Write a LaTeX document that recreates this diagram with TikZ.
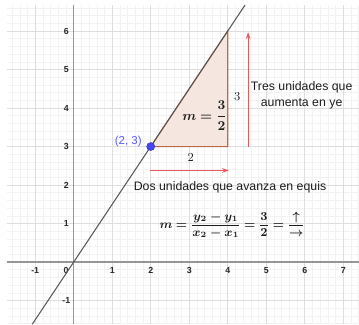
\documentclass[tikz,border=0pt]{standalone}
\usepackage[no-math]{fontspec}
\setmainfont{Liberation Sans}
\usepackage{amsmath}
\usepackage{bm}
\usepackage{xcolor}
\usetikzlibrary{positioning, arrows.meta}
\definecolor{gridMinor}{RGB}{242,242,242}
\definecolor{gridMajor}{RGB}{222,222,222}
\definecolor{axisGray}{RGB}{150,150,150}
\definecolor{lineGray}{RGB}{85,85,85}
\definecolor{tickText}{RGB}{40,40,40}
\definecolor{triFill}{RGB}{245,230,224}
\definecolor{triEdge}{RGB}{190,105,75}
\definecolor{arrowRed}{RGB}{232,90,95}
\definecolor{pointBlue}{RGB}{70,70,245}
\definecolor{labelBlue}{RGB}{90,90,255}
\definecolor{noteText}{RGB}{30,30,30}

\begin{document}
\begin{tikzpicture}[
			minorgrid/.style={
				draw=gridMinor,
				line width=0.4pt
			},
			majorgrid/.style={
				draw=gridMajor,
				line width=0.5pt
			},
			axisline/.style={
				draw=axisGray,
				line width=1pt
			},
			ticklabel/.style={
				font=\fontsize{6.5}{7}\selectfont\bfseries,
				text=tickText,
				inner sep=1pt
			},
			graphline/.style={
				draw=lineGray,
				line width=0.75pt
			},
			slopebox/.style={
				fill=triFill,
				draw=triEdge,
				line width=0.8pt
			},
			redarrow/.style={
				draw=arrowRed,
				line width=0.8pt,
				-{Stealth[length=5pt,width=3.5pt]}
			},
			pointdot/.style={
				circle,
				fill=pointBlue,
				draw=pointBlue!70!black,
				line width=0.3pt,
				minimum size=6pt,
				inner sep=0pt
			},
			notestyle/.style={
				align=center,
				font=\fontsize{9.1}{12.5}\selectfont,
				text=noteText
			},
			mathstyle/.style={
				font=\fontsize{9}{11}\selectfont,
				text=noteText
			}
			]
			
			% Canvas
			\useasboundingbox (-1.914,-1.614) rectangle (7.41,6.806);
			\fill[white] (-1.914,-1.614) rectangle (7.41,6.806);
			
			% Grid
			\draw[minorgrid, step=0.2] (-1.73,-1.614) grid (7.41,6.675);
			\draw[majorgrid, step=1] (-1.73,-1.614) grid (7.41,6.675);
			
			% Axes
			\coordinate (xmin) at (-1.73,0);
			\coordinate (xmax) at (7.41,0);
			\coordinate (ymin) at (0,-1.614);
			\coordinate (ymax) at (0,6.675);
			\draw[axisline] (xmin) -- (xmax);
			\draw[axisline] (ymin) -- (ymax);
			
			% Tick labels
			\foreach \x in {-1,1,2,3,4,5,6,7}
				\node[ticklabel] (xl\x) at (\x,-0.23) {\x};
			\foreach \y in {-1,1,2,3,4,5,6}
				\node[ticklabel] (yl\y) at (-0.19,\y) {\y};
			\node[ticklabel] (zero) at (-0.2,-0.21) {0};
			
			% Slope triangle
			\coordinate (A) at (2,3);
			\coordinate (B) at (4,3);
			\coordinate (C) at (4,6);
			\filldraw[slopebox] (A) -- (B) -- (C) -- cycle;
			
			% Line y = 3x/2
			\coordinate (lo) at (-1.076,-1.614);
			\coordinate (hi) at (4.45,6.675);
			\draw[graphline] (lo) -- (hi);
			
			% Point
			\node[pointdot] (P) at (A) {};
			\node[text=labelBlue, font=\fontsize{8.5}{10}\selectfont, inner sep=1pt, left=0.08cm of P, yshift=3.5pt] (Plabel) {(2, 3)};
			
			% Side labels
			\node[mathstyle] (run) at (3.04,2.72) {$2$};
			\node[mathstyle] (rise) at (4.25,4.3) {$3$};
			\node[mathstyle, font=\fontsize{10}{12}\selectfont] (slope) at (3.4,3.8) {$\bm{m=\dfrac{3}{2}}$};
			
			% Red arrows
			\coordinate (up0) at (4.53,3);
			\coordinate (up1) at (4.53,5.97);
			\coordinate (rt0) at (1.98,2.38);
			\coordinate (rt1) at (4.03,2.38);
			\draw[redarrow] (up0) -- (up1);
			\draw[redarrow] (rt0) -- (rt1);
			
			% Notes
			\node[notestyle] (upnote) at (5.92,4.33) {Tres unidades que\\aumenta en ye};
			\node[notestyle] (rtnote) at (4.06,1.93) {Dos unidades que avanza en equis};
			
			% Formula
			\node[mathstyle] (formula) at (4.12,0.96)
				{$\bm{m=\dfrac{y_2-y_1}{x_2-x_1}=\dfrac{3}{2}=\dfrac{\uparrow}{\rightarrow}}$};
			
		\end{tikzpicture}
\end{document}
